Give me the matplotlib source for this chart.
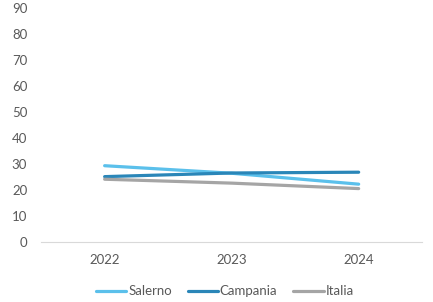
import matplotlib

matplotlib.use("Agg")
import matplotlib.pyplot as plt

years = ["2022", "2023", "2024"]
salerno = [29.3, 26.4, 22.2]
campania = [25.1, 26.5, 26.8]
italia = [24.1, 22.6, 20.5]

plt.rcParams["font.family"] = ["Lato", "DejaVu Sans"]

fig = plt.figure(figsize=(4.33, 3.02), dpi=100)
ax = fig.add_axes([0.095, 0.199, 0.88, 0.775])

x = range(len(years))
ax.plot(x, salerno, color="#5bc0eb", lw=2.3, label="Salerno", solid_capstyle="round")
ax.plot(x, campania, color="#2a86b8", lw=2.3, label="Campania", solid_capstyle="round")
ax.plot(x, italia, color="#a5a5a5", lw=2.3, label="Italia", solid_capstyle="round")

ax.set_xlim(-0.5, 2.5)
ax.set_ylim(0, 90)
ax.set_yticks(range(0, 91, 10))
ax.set_xticks(list(x))
ax.set_xticklabels(years)
for s in ["top", "right", "left"]:
    ax.spines[s].set_visible(False)
ax.spines["bottom"].set_color("#d9d9d9")
ax.tick_params(length=0, colors="#595959", labelsize=9.5)
ax.tick_params(axis="y", pad=10)
ax.tick_params(axis="x", pad=9)

ax.legend(loc="upper center", bbox_to_anchor=(0.482, -0.135), ncol=3, frameon=False,
          fontsize=9.5, labelcolor="#595959", handlelength=2.3, handletextpad=0.15,
          columnspacing=1.2)

fig.savefig("out.png", dpi=100)
